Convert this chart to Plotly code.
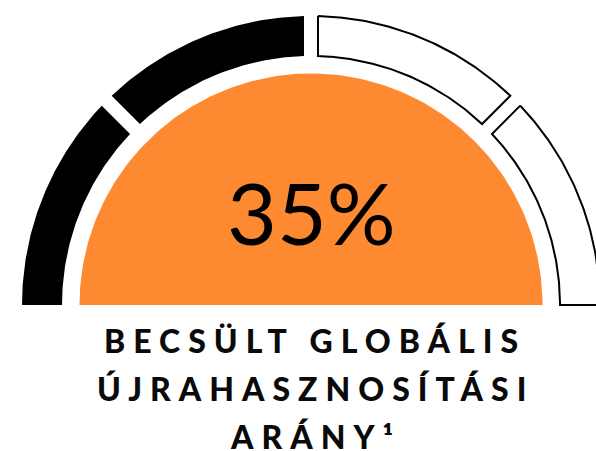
import numpy as np
import plotly.graph_objects as go

# ---- data ----
gauge_value = 35                       # percent shown in the centre
segment_filled = [1, 1, 0, 0]          # 4 gauge segments, left to right (1 = filled)
value_label = "35%"
caption_lines = ["BECSÜLT GLOBÁLIS", "ÚJRAHASZNOSÍTÁSI", "ARÁNY¹"]

# ---- geometry / style ----
W, H = 596, 451
CX, CY = 311, 305
R_OUT, R_IN = 289, 249
R_CORE = 231.5
GAP = 14
ORANGE = "#FD8930"

fig = go.Figure()

def seg_poly(a_start, a_end, r_in, r_out, gap, n=80):
    def ang(r, a, sign, edge):
        if edge:
            return np.radians(a)
        return np.radians(a) + sign * np.arcsin((gap / 2) / r)
    t0 = ang(r_out, a_start, -1, a_start >= 180)
    t1 = ang(r_out, a_end, +1, a_end <= 0)
    tt = np.linspace(t0, t1, n)
    xo = CX + r_out * np.cos(tt)
    yo = CY - r_out * np.sin(tt)
    s0 = ang(r_in, a_start, -1, a_start >= 180)
    s1 = ang(r_in, a_end, +1, a_end <= 0)
    ss = np.linspace(s1, s0, n)
    xi = CX + r_in * np.cos(ss)
    yi = CY - r_in * np.sin(ss)
    x = np.concatenate([xo, xi, xo[:1]])
    y = np.concatenate([yo, yi, yo[:1]])
    return x, y

nseg = len(segment_filled)
step = 180 / nseg
for i, f in enumerate(segment_filled):
    a_start = 180 - i * step
    a_end = 180 - (i + 1) * step
    x, y = seg_poly(a_start, a_end, R_IN, R_OUT, GAP)
    fig.add_trace(go.Scatter(
        x=x, y=y, mode="lines", fill="toself",
        fillcolor="black" if f else "white",
        line=dict(color="black", width=0 if f else 2),
        hoverinfo="skip", showlegend=False))

# orange core
tt = np.linspace(np.pi, 0, 200)
fig.add_trace(go.Scatter(
    x=np.concatenate([CX + R_CORE * np.cos(tt), [CX - R_CORE]]),
    y=np.concatenate([CY - R_CORE * np.sin(tt), [CY]]),
    mode="lines", fill="toself", fillcolor=ORANGE,
    line=dict(color=ORANGE, width=0), hoverinfo="skip", showlegend=False))

fig.add_annotation(x=CX, y=211, text=value_label, showarrow=False,
                   xanchor="center", yanchor="middle",
                   font=dict(family="Lato", size=86, color="black", weight=400))

line_y = [340, 388, 436]
for txt, yy in zip(caption_lines, line_y):
    fig.add_annotation(x=CX + 4, y=yy, showarrow=False, xanchor="center", yanchor="middle",
                       text=f'<span style="letter-spacing:8px">{txt}</span>',
                       font=dict(family="Lato", size=32, color="#0a0a0a", weight=900))

fig.update_xaxes(range=[0, W], visible=False, fixedrange=True)
fig.update_yaxes(range=[H, 0], visible=False, fixedrange=True)
fig.update_layout(width=W, height=H, margin=dict(l=0, r=0, t=0, b=0),
                  plot_bgcolor="white", paper_bgcolor="white", showlegend=False)
fig.write_html("out.html", config={"displayModeBar": False},
               post_script="document.body.style.margin='0px';document.body.style.overflow='hidden';")
